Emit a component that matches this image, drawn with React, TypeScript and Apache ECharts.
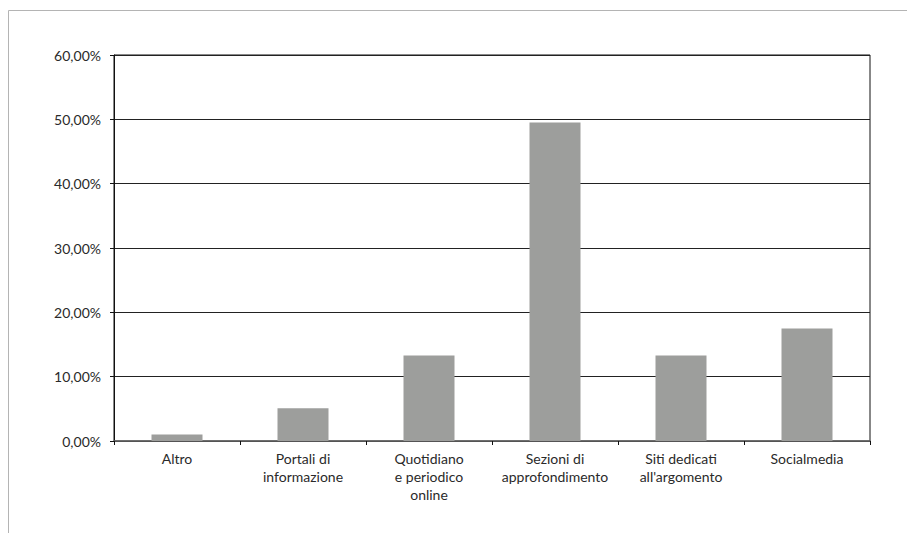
import React, { useEffect, useRef } from "react";
import * as echarts from "echarts";

const categories = [
  "Altro",
  "Portali di\ninformazione",
  "Quotidiano\ne periodico\nonline",
  "Sezioni di\napprofondimento",
  "Siti dedicati\nall'argomento",
  "Socialmedia",
];
const values = [1.0, 5.1, 13.3, 49.5, 13.3, 17.5];
const yTicks = { min: 0, max: 60, interval: 10 };

export default function App() {
  const ref = useRef<HTMLDivElement>(null);
  useEffect(() => {
    if (!ref.current) return;
    const chart = echarts.init(ref.current, null, { renderer: "svg" });
    const font = "Lato, 'Noto Sans', sans-serif";
    chart.setOption({
      animation: false,
      backgroundColor: "#ffffff",
      textStyle: { fontFamily: font },
      grid: {
        left: 114,
        right: 37,
        top: 55,
        bottom: 92,
        show: true,
        borderColor: "#111",
        borderWidth: 1,
        backgroundColor: "transparent",
      },
      graphic: [
        {
          type: "line",
          shape: { x1: 8.5, y1: 10.5, x2: 907, y2: 10.5 },
          style: { stroke: "#b4b4b4", lineWidth: 1 },
          silent: true,
        },
        {
          type: "line",
          shape: { x1: 8.5, y1: 10.5, x2: 8.5, y2: 533 },
          style: { stroke: "#b4b4b4", lineWidth: 1 },
          silent: true,
        },
      ],
      xAxis: {
        type: "category",
        data: categories,
        boundaryGap: true,
        axisLine: { show: true, lineStyle: { color: "#666", width: 1.5 } },
        axisTick: {
          show: true,
          alignWithLabel: false,
          length: 4,
          inside: false,
          lineStyle: { color: "#111" },
        },
        axisLabel: {
          color: "#2a2a2a",
          fontSize: 14,
          fontFamily: font,
          margin: 8,
          lineHeight: 18,
          interval: 0,
        },
        splitLine: { show: false },
      },
      yAxis: {
        type: "value",
        min: yTicks.min,
        max: yTicks.max,
        interval: yTicks.interval,
        axisLine: { show: true, lineStyle: { color: "#111", width: 1 } },
        axisTick: { show: true, length: 4, lineStyle: { color: "#111" } },
        axisLabel: {
          color: "#2a2a2a",
          fontSize: 14,
          fontFamily: font,
          margin: 13,
          formatter: (v: number) => v.toFixed(2).replace(".", ",") + "%",
        },
        splitLine: { show: true, lineStyle: { color: "#222", width: 1 } },
      },
      series: [
        {
          type: "bar",
          data: values,
          barWidth: 51,
          itemStyle: { color: "#9d9e9c" },
          z: 3,
        },
      ],
    });
    return () => chart.dispose();
  }, []);
  return <div ref={ref} style={{ width: 907, height: 533, position: "absolute", left: 0, top: 0 }} />;
}
